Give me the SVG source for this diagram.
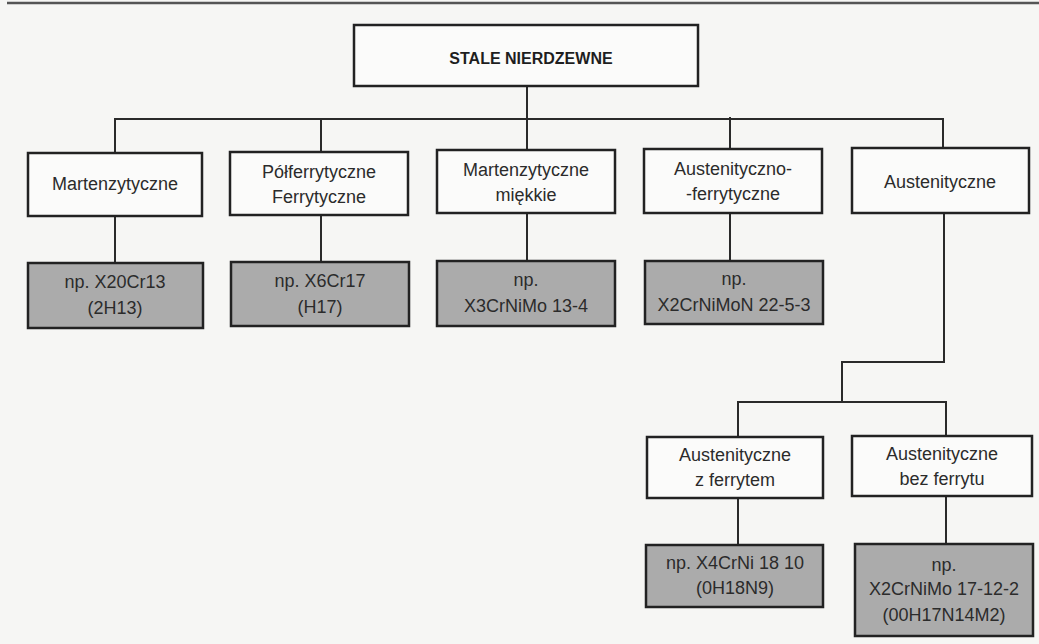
<svg xmlns="http://www.w3.org/2000/svg" width="1039" height="644" viewBox="0 0 1039 644">
<style>
.bx{fill:#fbfbfa;stroke:#222;stroke-width:2.5}
.gx{fill:#ababab;stroke:#222;stroke-width:2.5}
.t{font-family:"Liberation Sans",Arial,sans-serif;font-size:18px;fill:#2b2b2b;text-anchor:middle}
.tb{font-family:"Liberation Sans",Arial,sans-serif;font-size:16px;font-weight:bold;fill:#1e1e1e;text-anchor:middle}
.c{fill:none;stroke:#2a2a2a;stroke-width:2}
</style>
<rect width="1039" height="644" fill="#f6f6f4"/>
<line x1="7" y1="3" x2="1039" y2="3" stroke="#555" stroke-width="2.5"/>
<g id="connectors">
<path class="c" d="M527 86V150"/>
<path class="c" d="M115 153V119H943V148"/>
<path class="c" d="M321 119V152"/>
<path class="c" d="M730 117V149"/>
<path class="c" d="M115 216V263"/>
<path class="c" d="M321 215V262"/>
<path class="c" d="M527 213V261"/>
<path class="c" d="M730 213V261"/>
<path class="c" d="M944 213V362H842V402"/>
<path class="c" d="M738 437V402H946V436"/>
<path class="c" d="M738 498V545"/>
<path class="c" d="M946 496V544"/>
</g>
<g id="root">
<rect class="bx" x="354" y="25" width="344" height="61"/>
<text class="tb" x="531" y="64">STALE NIERDZEWNE</text>
</g>
<g id="martenzytyczne">
<rect class="bx" x="28" y="153" width="174" height="63"/>
<text class="t" x="115" y="190">Martenzytyczne</text>
</g>
<g id="polferrytyczne">
<rect class="bx" x="230" y="152" width="178" height="63"/>
<text class="t" x="319" y="178">Półferrytyczne</text>
<text class="t" x="319" y="203">Ferrytyczne</text>
</g>
<g id="martenzytyczne-miekkie">
<rect class="bx" x="437" y="150" width="178" height="63"/>
<text class="t" x="526" y="176">Martenzytyczne</text>
<text class="t" x="526" y="201">miękkie</text>
</g>
<g id="austenityczno-ferrytyczne">
<rect class="bx" x="644" y="149" width="178" height="64"/>
<text class="t" x="733" y="175">Austenityczno-</text>
<text class="t" x="733" y="200">-ferrytyczne</text>
</g>
<g id="austenityczne">
<rect class="bx" x="852" y="148" width="177" height="65"/>
<text class="t" x="940" y="188">Austenityczne</text>
</g>
<g id="ex-x20cr13">
<rect class="gx" x="28" y="263" width="175" height="65"/>
<text class="t" x="115" y="288">np. X20Cr13</text>
<text class="t" x="115" y="314">(2H13)</text>
</g>
<g id="ex-x6cr17">
<rect class="gx" x="231" y="262" width="178" height="64"/>
<text class="t" x="320" y="287">np. X6Cr17</text>
<text class="t" x="320" y="313">(H17)</text>
</g>
<g id="ex-x3crnimo">
<rect class="gx" x="437" y="261" width="178" height="65"/>
<text class="t" x="526" y="286">np.</text>
<text class="t" x="526" y="312">X3CrNiMo 13-4</text>
</g>
<g id="ex-x2crnimon">
<rect class="gx" x="645" y="261" width="178" height="63"/>
<text class="t" x="734" y="285">np.</text>
<text class="t" x="734" y="311">X2CrNiMoN 22-5-3</text>
</g>
<g id="austenityczne-z-ferrytem">
<rect class="bx" x="647" y="437" width="176" height="61"/>
<text class="t" x="735" y="461">Austenityczne</text>
<text class="t" x="735" y="486">z ferrytem</text>
</g>
<g id="austenityczne-bez-ferrytu">
<rect class="bx" x="852" y="436" width="180" height="60"/>
<text class="t" x="942" y="460">Austenityczne</text>
<text class="t" x="942" y="485">bez ferrytu</text>
</g>
<g id="ex-x4crni">
<rect class="gx" x="646" y="545" width="177" height="62"/>
<text class="t" x="735" y="569">np. X4CrNi 18 10</text>
<text class="t" x="735" y="594">(0H18N9)</text>
</g>
<g id="ex-x2crnimo">
<rect class="gx" x="855" y="544" width="178" height="92"/>
<text class="t" x="944" y="571">np.</text>
<text class="t" x="944" y="595">X2CrNiMo 17-12-2</text>
<text class="t" x="944" y="621">(00H17N14M2)</text>
</g>
</svg>
